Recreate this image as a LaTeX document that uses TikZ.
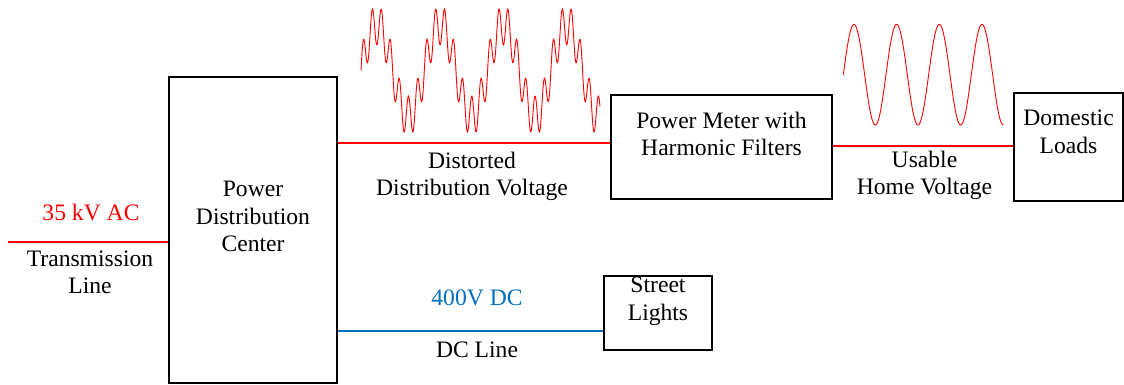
\documentclass[tikz,border=0pt]{standalone}
\usepackage{fontspec}
\setmainfont{Liberation Serif}
\usepackage{tikz}
\usetikzlibrary{positioning,calc}
\definecolor{ACRed} {RGB}{255,0,0}
\definecolor{DCBlue}{RGB}{0,112,192}
\begin{document}
\begin{tikzpicture}[x=1pt,y=-1pt,
  blk/.style={draw,line width=2pt,inner sep=0pt},
  lbl/.style={align=center,inner sep=0pt,font=\fontsize{23.6}{27.5}\selectfont},
  acline/.style={ACRed,line width=2pt},
  dcline/.style={DCBlue,line width=2pt},
  wave/.style={ACRed,line width=0.9pt}]
\useasboundingbox (0,0) rectangle (1124,385);
% blocks
\node[blk,minimum width=168pt,minimum height=306pt] (pdc) at (253,230.3) {};
\node[blk,minimum width=221.6pt,minimum height=104.3pt] (meter) at (721.5,147.2) {};
\node[blk,minimum width=109pt,minimum height=107.4pt] (loads) at (1068,147) {};
\node[blk,minimum width=107.7pt,minimum height=74pt] (lights) at (657.9,313) {};
% block texts
\node[lbl] (pdctxt) at (253,216.5) {Power\\Distribution\\Center};
\node[lbl] (metertxt) at (721.5,134) {Power Meter with\\Harmonic Filters};
\node[lbl] (loadstxt) at (1068.5,131.7) {Domestic\\Loads};
\node[lbl] (lightstxt) at (658,301) {Street\\Lights};
% lines
\coordinate (tlstart) at (8,242);
\draw[acline] (tlstart) -- (tlstart -| pdc.west);
\draw[acline] ([yshift=3.7pt]meter.west) -- ([yshift=3.7pt]meter.west -| pdc.east);
\draw[acline] ([yshift=1.5pt]meter.east) -- ([yshift=1.5pt]meter.east -| loads.west);
\draw[dcline] ([yshift=-18pt]lights.west) -- ([yshift=-18pt]lights.west -| pdc.east);
% line labels
\node[lbl,text=ACRed] (ac) at (91,212) {35 kV AC};
\node[lbl] (tltxt) at (90,272.5) {Transmission\\Line};
\node[lbl] (ddv) at (472,176.5) {Distorted\\Distribution Voltage};
\node[lbl] (uhv) at (924.5,175.5) {Usable\\Home Voltage};
\node[lbl,text=DCBlue] (dc) at (477,298) {400V DC};
\node[lbl] (dctxt) at (477,350) {DC Line};
% waveforms
\draw[wave] plot[domain=0:23.72,samples=600,smooth]
  ({361+\x/(2*pi)*63.3},{70.5-45.7*(sin(\x r)+0.44*sin(7*\x r))});
\draw[wave] plot[domain=0:23.56,samples=300,smooth]
  ({843.3+\x/(2*pi)*42.67},{74.7-50.3*sin(\x r)});
\end{tikzpicture}
\end{document}
